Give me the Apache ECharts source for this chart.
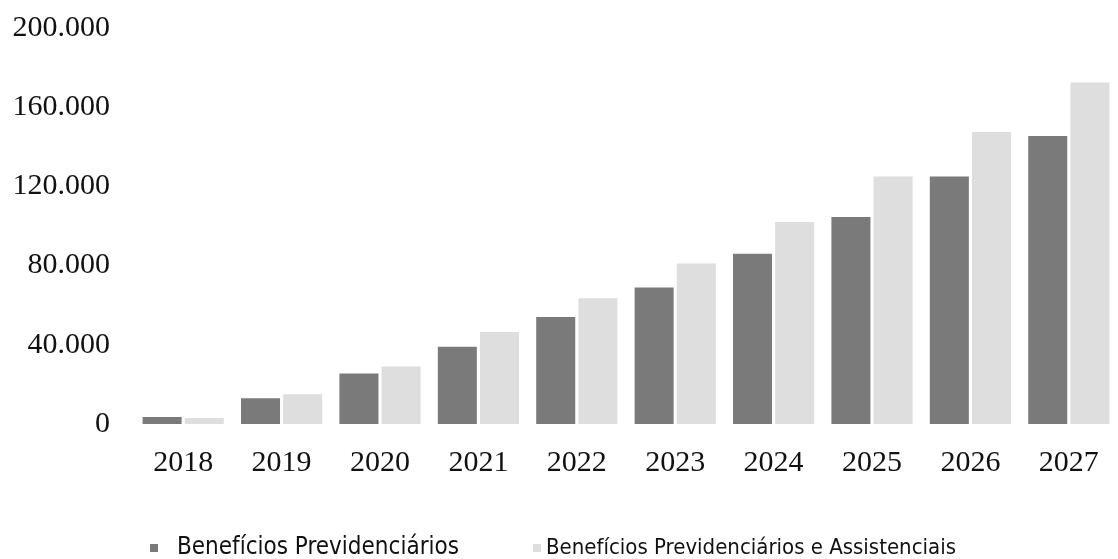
<!DOCTYPE html>
<html>
<head>
<meta charset="utf-8">
<script src="https://cdn.jsdelivr.net/npm/echarts@6/dist/echarts.min.js"></script>
<style>html,body{margin:0;padding:0;background:#fff}#c{width:1118px;height:559px}</style>
</head>
<body>
<div id="c"></div>
<script>
const categories = ['2018','2019','2020','2021','2022','2023','2024','2025','2026','2027'];
const seriesNames = ['Benefícios Previdenciários', 'Benefícios Previdenciários e Assistenciais'];
const previdenciarios = [3500, 13000, 25500, 39000, 54000, 69000, 86000, 104500, 125000, 145500];
const previdAssist = [3000, 15000, 29000, 46500, 63500, 81000, 102000, 125000, 147500, 172500];
const yTicks = [0, 40000, 80000, 120000, 160000, 200000];

const chart = echarts.init(document.getElementById('c'));
chart.setOption({
  animation: false,
  backgroundColor: '#fff',
  grid: { left: 134, right: -10, top: 28, bottom: 135, containLabel: false },
  legend: {
    left: 145, top: 531, itemWidth: 8, itemHeight: 8, itemGap: 74,
    icon: 'rect',
    textStyle: { fontFamily: 'Liberation Sans Narrow, DejaVu Sans Condensed, sans-serif', fontSize: 24, color: '#111' },
    data: [
      { name: seriesNames[0], textStyle: { padding: [0, 0, 0, 14], fontSize: 24 } },
      { name: seriesNames[1], textStyle: { fontSize: 22 } }
    ]
  },
  xAxis: {
    type: 'category', data: categories,
    axisLine: { show: false }, axisTick: { show: false },
    axisLabel: { margin: 24, fontFamily: 'Liberation Serif, serif', fontSize: 30, color: '#111' }
  },
  yAxis: {
    type: 'value', min: 0, max: 200000, interval: 40000,
    axisLine: { show: false }, axisTick: { show: false }, splitLine: { show: false },
    axisLabel: {
      margin: 24, fontFamily: 'Liberation Serif, serif', fontSize: 30, color: '#111',
      customValues: yTicks,
      formatter: v => v === 0 ? '0' : String(v/1000) + '.000'
    }
  },
  series: [
    { name: seriesNames[0], type: 'bar', data: previdenciarios, barGap: '8%', barCategoryGap: '17.5%',
      itemStyle: { color: '#7a7a7a' } },
    { name: seriesNames[1], type: 'bar', data: previdAssist,
      itemStyle: { color: '#dedede' } }
  ]
});
</script>
</body>
</html>
